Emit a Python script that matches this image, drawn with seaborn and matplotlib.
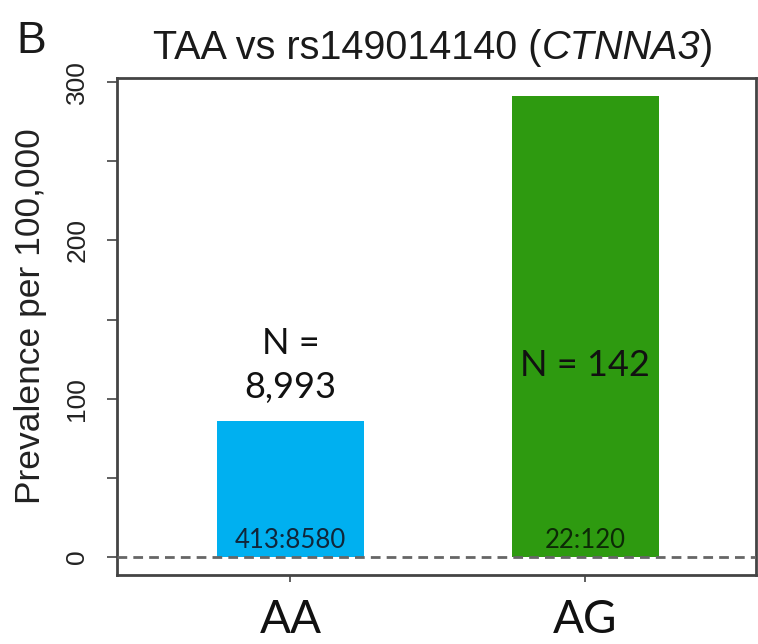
import matplotlib
matplotlib.use("Agg")
import matplotlib.pyplot as plt
import seaborn as sns
import pandas as pd

# Genotype groups and prevalence per 100,000
genotypes = ["AA", "AG"]
prevalence = [86, 291]
group_sizes = ["N =\n8,993", "N = 142"]
case_ratios = ["413:8580", "22:120"]
bar_colors = ["#00B0F0", "#2E9A10"]
ratio_colors = ["#10263a", "#0c2a06"]

df = pd.DataFrame({"genotype": genotypes, "prevalence": prevalence})

sns.set_style("white")
plt.rcParams["font.family"] = ["Liberation Sans", "DejaVu Sans"]

fig = plt.figure(figsize=(7.58, 6.44), dpi=100)
ax = fig.add_axes([0.1544, 0.1071, 0.8426, 0.7718])

sns.barplot(data=df, x="genotype", y="prevalence", hue="genotype",
            palette=bar_colors, saturation=1, width=0.5, legend=False,
            ax=ax, linewidth=0)

ax.set_xlim(-0.588, 1.578)
ax.set_ylim(-11.4, 302.6)

# Reference line at zero
ax.axhline(0, color="#666666", linestyle=(0, (3.5, 2.2)), linewidth=2,
           zorder=5)

# Group size labels
ax.text(0, 121, group_sizes[0], ha="center", va="center", fontsize=26,
        family="Lato", linespacing=1.4, color="#111111")
ax.text(1, 121, group_sizes[1], ha="center", va="center", fontsize=26,
        family="Lato", color="#111111")

# Case:control counts inside the bars
for i, r in enumerate(case_ratios):
    ax.text(i, 2.5, r, ha="center", va="bottom", fontsize=18.5,
            family="Lato", color=ratio_colors[i])

ax.set_yticks([0, 100, 200, 300])
ax.set_yticks([50, 150, 250], minor=True)
ax.set_yticklabels(["0", "100", "200", "300"], rotation=90, va="center",
                   fontsize=19, color="#222222")
ax.tick_params(axis="y", which="both", direction="out", length=7, width=1.2,
               color="#444444", left=True, pad=13)
ax.tick_params(axis="x", direction="out", length=5, width=1.2,
               color="#444444", bottom=True, pad=12)
for lab in ax.get_xticklabels():
    lab.set_fontfamily("Lato")
    lab.set_fontsize(33)
    lab.set_color("#111111")

ax.set_xlabel("")
ax.set_ylabel("Prevalence per 100,000", fontsize=25.5, color="#222222")
ax.yaxis.set_label_coords(-0.11, 0.52)

for s in ax.spines.values():
    s.set_visible(True)
    s.set_color("#444444")
    s.set_linewidth(2)

# Title with the gene name in italics
t1 = fig.text(0.2018, 0.925, "TAA vs rs149014140 (", fontsize=28.5,
              va="center", ha="left", color="#1a1a1a")
t2 = ax.annotate("CTNNA3", xy=(1, 0), xycoords=t1, va="bottom", ha="left",
                 fontsize=28.5, fontstyle="italic", color="#1a1a1a",
                 annotation_clip=False)
t3 = ax.annotate(")", xy=(1, 0), xycoords=t2, va="bottom", ha="left",
                 fontsize=28.5, color="#1a1a1a", annotation_clip=False)

fig.text(0.022, 0.968, "B", fontsize=32, va="top", ha="left",
         color="#1a1a1a")

fig.savefig("out.png", dpi=100)
